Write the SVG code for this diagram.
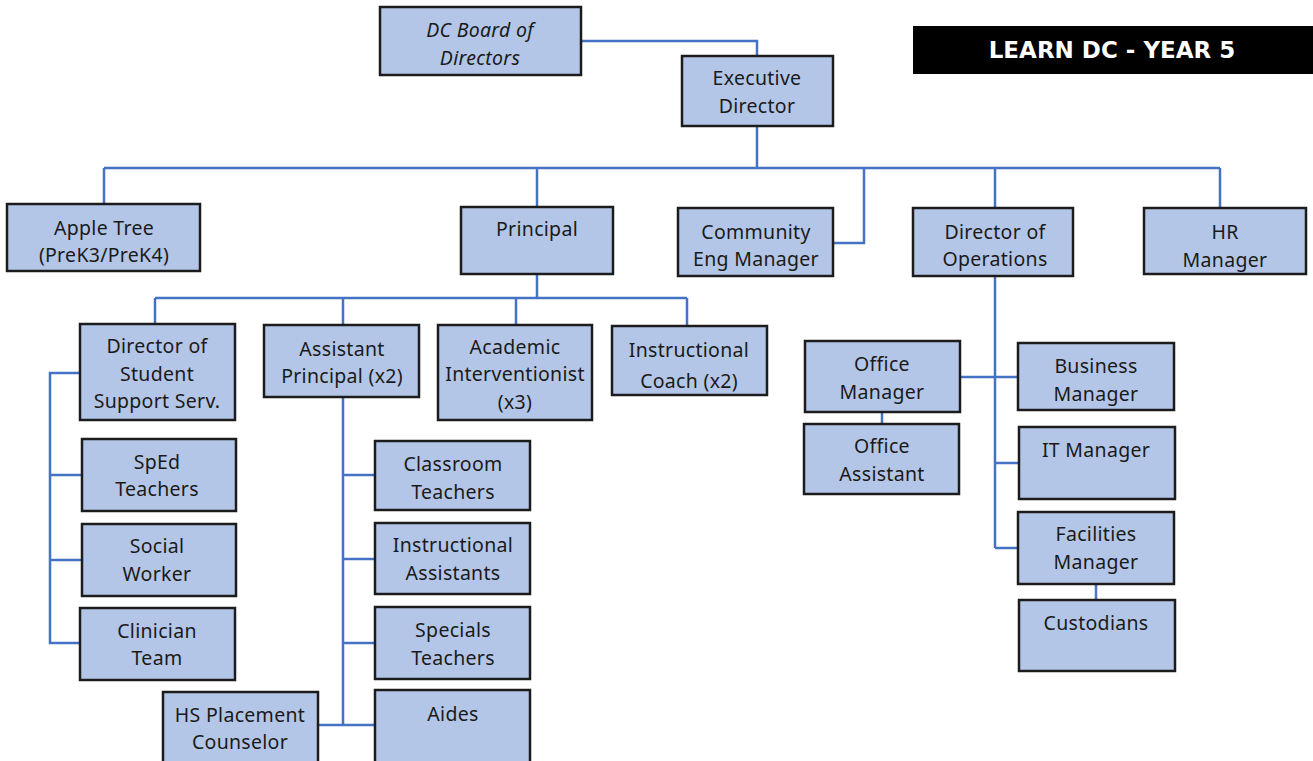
<svg xmlns="http://www.w3.org/2000/svg" width="1313" height="761" viewBox="0 0 1313 761">
<style>
.box{fill:#b4c6e7;stroke:#1c1c1c;stroke-width:2.5}
.t{font-family:"Noto Sans","DejaVu Sans",sans-serif;font-size:19.5px;letter-spacing:0.3px;fill:#1a1a1a;text-anchor:middle;dominant-baseline:central}
.i{font-style:italic}
.c{fill:none;stroke:#4472c4;stroke-width:2.5}
.ban{fill:#000}
.bt{font-family:"DejaVu Sans",sans-serif;font-weight:bold;font-size:23px;fill:#fff;text-anchor:middle;dominant-baseline:central}
</style>
<rect width="1313" height="761" fill="#fff"/>
<g id="connectors">
<polyline class="c" points="581,41 757,41 757,56"/>
<line class="c" x1="757" y1="126" x2="757" y2="168"/>
<line class="c" x1="104" y1="168" x2="1220" y2="168"/>
<line class="c" x1="104" y1="168" x2="104" y2="204"/>
<line class="c" x1="537" y1="168" x2="537" y2="207"/>
<polyline class="c" points="864,168 864,243 833,243"/>
<line class="c" x1="995" y1="168" x2="995" y2="208"/>
<line class="c" x1="1220" y1="168" x2="1220" y2="208"/>
<line class="c" x1="537" y1="274" x2="537" y2="298"/>
<line class="c" x1="155" y1="298" x2="687" y2="298"/>
<line class="c" x1="155" y1="298" x2="155" y2="324"/>
<line class="c" x1="343" y1="298" x2="343" y2="325"/>
<line class="c" x1="516" y1="298" x2="516" y2="325"/>
<line class="c" x1="687" y1="298" x2="687" y2="326"/>
<polyline class="c" points="80,373 50,373 50,643 80,643"/>
<line class="c" x1="50" y1="475" x2="82" y2="475"/>
<line class="c" x1="50" y1="560" x2="82" y2="560"/>
<line class="c" x1="343" y1="397" x2="343" y2="725"/>
<line class="c" x1="343" y1="475" x2="375" y2="475"/>
<line class="c" x1="343" y1="559" x2="375" y2="559"/>
<line class="c" x1="343" y1="643" x2="375" y2="643"/>
<line class="c" x1="318" y1="725" x2="375" y2="725"/>
<line class="c" x1="995" y1="276" x2="995" y2="548"/>
<line class="c" x1="960" y1="377" x2="1018" y2="377"/>
<line class="c" x1="882" y1="412" x2="882" y2="424"/>
<line class="c" x1="995" y1="463" x2="1019" y2="463"/>
<line class="c" x1="995" y1="548" x2="1018" y2="548"/>
<line class="c" x1="1096" y1="584" x2="1096" y2="600"/>
</g>
<g id="banner">
<rect class="ban" x="913" y="26" width="400" height="48"/>
<text class="bt" x="1112" y="50">LEARN DC - YEAR 5</text>
</g>
<g id="board"><rect class="box" x="380" y="7" width="201" height="68"/><text class="t i" x="480" y="29">DC Board of</text><text class="t i" x="480" y="57">Directors</text></g>
<g id="exec"><rect class="box" x="682" y="56" width="151" height="70"/><text class="t" x="757" y="77">Executive</text><text class="t" x="757" y="105">Director</text></g>
<g id="appletree"><rect class="box" x="7" y="204" width="193" height="67"/><text class="t" x="104" y="227">Apple Tree</text><text class="t" x="104" y="254">(PreK3/PreK4)</text></g>
<g id="principal"><rect class="box" x="461" y="207" width="152" height="67"/><text class="t" x="537" y="228">Principal</text></g>
<g id="community"><rect class="box" x="678" y="208" width="155" height="68"/><text class="t" x="756" y="231">Community</text><text class="t" x="756" y="258">Eng Manager</text></g>
<g id="dirops"><rect class="box" x="913" y="208" width="160" height="68"/><text class="t" x="995" y="231">Director of</text><text class="t" x="995" y="258">Operations</text></g>
<g id="hr"><rect class="box" x="1144" y="208" width="162" height="66"/><text class="t" x="1225" y="231">HR</text><text class="t" x="1225" y="259">Manager</text></g>
<g id="dsss"><rect class="box" x="80" y="324" width="155" height="96"/><text class="t" x="157" y="345">Director of</text><text class="t" x="157" y="373">Student</text><text class="t" x="157" y="400">Support Serv.</text></g>
<g id="ap"><rect class="box" x="264" y="325" width="155" height="72"/><text class="t" x="342" y="348">Assistant</text><text class="t" x="342" y="375">Principal (x2)</text></g>
<g id="academic"><rect class="box" x="438" y="325" width="154" height="95"/><text class="t" x="515" y="346">Academic</text><text class="t" x="515" y="373">Interventionist</text><text class="t" x="515" y="401">(x3)</text></g>
<g id="coach"><rect class="box" x="612" y="326" width="155" height="69"/><text class="t" x="689" y="349">Instructional</text><text class="t" x="689" y="380">Coach (x2)</text></g>
<g id="sped"><rect class="box" x="82" y="439" width="154" height="72"/><text class="t" x="157" y="461">SpEd</text><text class="t" x="157" y="488">Teachers</text></g>
<g id="social"><rect class="box" x="82" y="524" width="154" height="72"/><text class="t" x="157" y="545">Social</text><text class="t" x="157" y="573">Worker</text></g>
<g id="clinician"><rect class="box" x="80" y="608" width="155" height="72"/><text class="t" x="157" y="630">Clinician</text><text class="t" x="157" y="657">Team</text></g>
<g id="classroom"><rect class="box" x="375" y="441" width="155" height="69"/><text class="t" x="453" y="463">Classroom</text><text class="t" x="453" y="491">Teachers</text></g>
<g id="instassist"><rect class="box" x="375" y="523" width="155" height="71"/><text class="t" x="453" y="544">Instructional</text><text class="t" x="453" y="572">Assistants</text></g>
<g id="specials"><rect class="box" x="375" y="607" width="155" height="72"/><text class="t" x="453" y="629">Specials</text><text class="t" x="453" y="657">Teachers</text></g>
<g id="aides"><rect class="box" x="375" y="690" width="155" height="75"/><text class="t" x="453" y="713">Aides</text></g>
<g id="hsplacement"><rect class="box" x="163" y="692" width="155" height="73"/><text class="t" x="240" y="714">HS Placement</text><text class="t" x="240" y="741">Counselor</text></g>
<g id="officemgr"><rect class="box" x="805" y="341" width="155" height="71"/><text class="t" x="882" y="363">Office</text><text class="t" x="882" y="391">Manager</text></g>
<g id="officeasst"><rect class="box" x="804" y="424" width="155" height="70"/><text class="t" x="882" y="445">Office</text><text class="t" x="882" y="473">Assistant</text></g>
<g id="business"><rect class="box" x="1018" y="343" width="156" height="67"/><text class="t" x="1096" y="365">Business</text><text class="t" x="1096" y="393">Manager</text></g>
<g id="itmgr"><rect class="box" x="1019" y="427" width="156" height="72"/><text class="t" x="1096" y="449">IT Manager</text></g>
<g id="facilities"><rect class="box" x="1018" y="512" width="156" height="72"/><text class="t" x="1096" y="533">Facilities</text><text class="t" x="1096" y="561">Manager</text></g>
<g id="custodians"><rect class="box" x="1019" y="600" width="156" height="71"/><text class="t" x="1096" y="622">Custodians</text></g>
</svg>
